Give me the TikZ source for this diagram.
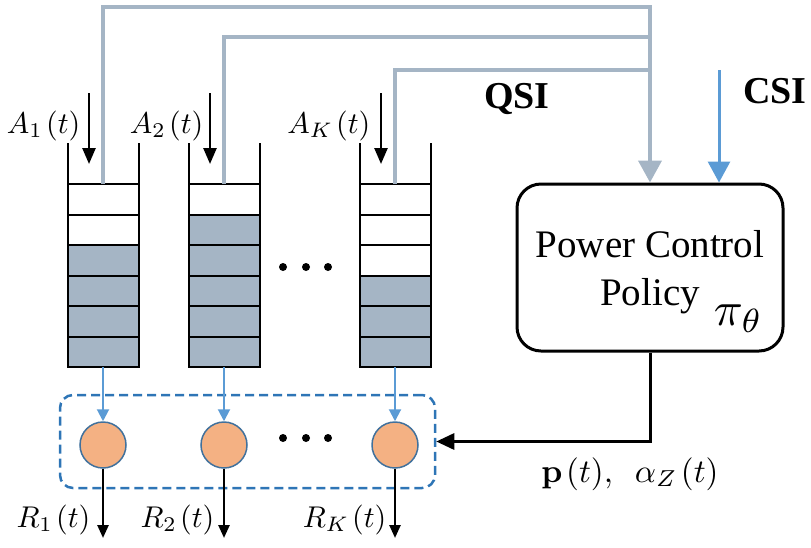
\documentclass[tikz,border=0pt]{standalone}
\usepackage[no-math]{fontspec}
\setmainfont{Liberation Serif}
\usetikzlibrary{arrows.meta}
\definecolor{qgray}{HTML}{A5B5C5}
\definecolor{cblue}{HTML}{5B9BD5}
\definecolor{dblue}{HTML}{2E75B6}
\definecolor{corange}{HTML}{F4B183}
\definecolor{cedge}{HTML}{41719C}
\tikzset{
  qline/.style={line width=2pt,black},
  qsi/.style={line width=4pt,qgray},
  bigtip/.style={-{Triangle[width=23pt,length=22pt]}},
  csiarr/.style={line width=3pt,cblue,-{Triangle[width=22pt,length=21pt]}},
  inarr/.style={line width=2.5pt,black,-{Triangle[width=13pt,length=16pt]}},
  outarr/.style={line width=2.5pt,black,-{Triangle[width=11pt,length=13pt]}},
  bluearr/.style={line width=2pt,cblue,-{Triangle[width=12pt,length=12pt]}},
  ctrl/.style={line width=3pt,black,-{Triangle[width=16pt,length=18pt]}},
  srv/.style={circle,draw=cedge,fill=corange,line width=1.5pt,minimum size=46pt,inner sep=0pt},
  policy/.style={draw,line width=3pt,rounded corners=24pt,minimum width=266pt,minimum height=167pt},
  sched/.style={draw=dblue,dashed,dash pattern=on 9pt off 5pt,line width=2.5pt,rounded corners=13pt,minimum width=375pt,minimum height=93pt},
  dot/.style={circle,fill=black,minimum size=8pt,inner sep=0pt},
  mathlbl/.style={font=\normalsize,scale=3,inner sep=0pt},
  txt/.style={font=\fontsize{39}{44}\selectfont,inner sep=0pt},
  btxt/.style={font=\fontsize{38}{44}\selectfont\bfseries,inner sep=0pt},
}
\begin{document}
\begin{tikzpicture}[x=1pt,y=-1pt]
\useasboundingbox (0,0) rectangle (811,547);
% dashed scheduler box
\node[sched] (sch) at (247.5,441.5) {};
% queues
\foreach \cx/\nf [count=\i] in {103/4,224/5,395/3}{
  \fill[qgray] ({\cx-35.5},{367-\nf*30.5}) rectangle ({\cx+35.5},367);
  \draw[qline] ({\cx-35.5},143) -- ({\cx-35.5},367) -- ({\cx+35.5},367) -- ({\cx+35.5},143);
  \foreach \k in {0,...,5}
    \draw[qline] ({\cx-35.5},{184+\k*30.5}) -- ({\cx+35.5},{184+\k*30.5});
  \coordinate (qt\i) at (\cx,184);
  \coordinate (qb\i) at (\cx,367);
  \coordinate (ai\i) at ({\cx-14},93);
  \coordinate (ae\i) at ({\cx-14},164);
}
% policy box
\node[policy] (pol) at (650,267.5) {};
\node[txt,anchor=base] (pc) at (650,257) {Power Control};
\node[txt,anchor=base] (pl) at (650,305) {Policy};
\node[anchor=base west,inner sep=0pt,font=\normalsize,scale=4.8] (pi) at (713,325) {$\pi_\theta$};
% QSI lines
\coordinate (j1) at (650,7);
\coordinate (j2) at (650,37);
\coordinate (j3) at (650,70);
\draw[qsi] (qt2) |- (j2);
\draw[qsi] (qt3) |- (j3);
\draw[qsi,bigtip] (qt1) |- (j1) -- (pol.north);
% CSI
\coordinate (csi) at (719,70);
\draw[csiarr] (csi) -- (csi |- pol.north);
\node[btxt,anchor=base] (qsil) at (517,108) {QSI};
\node[btxt,anchor=base] (csil) at (775,103) {CSI};
% arrivals
\draw[inarr] (ai1) -- (ae1);
\draw[inarr] (ai2) -- (ae2);
\draw[inarr] (ai3) -- (ae3);
\node[mathlbl,anchor=base east] (a1) at (81,133) {$A_1\mkern2mu(t)$};
\node[mathlbl,anchor=base east] (a2) at (204,133) {$A_2\mkern2mu(t)$};
\node[mathlbl,anchor=base east] (a3) at (371,133) {$A_K\mkern2mu(t)$};
% dots
\node[dot] (d1) at (283,267) {};
\node[dot] (d2) at (306,267) {};
\node[dot] (d3) at (328,267) {};
\node[dot] (e1) at (283,438) {};
\node[dot] (e2) at (306,438) {};
\node[dot] (e3) at (328,438) {};
% servers
\node[srv] (s1) at (103,445) {};
\node[srv] (s2) at (224,445) {};
\node[srv] (s3) at (395,445) {};
\draw[bluearr] (qb1) -- (s1.north);
\draw[bluearr] (qb2) -- (s2.north);
\draw[bluearr] (qb3) -- (s3.north);
\coordinate (r1) at (103,538);
\coordinate (r2) at (224,538);
\coordinate (r3) at (395,538);
\draw[outarr] (s1.south) -- (r1);
\draw[outarr] (s2.south) -- (r2);
\draw[outarr] (s3.south) -- (r3);
\node[mathlbl,anchor=base east] (R1) at (91,527) {$R_1\mkern2mu(t)$};
\node[mathlbl,anchor=base east] (R2) at (215,527) {$R_2\mkern2mu(t)$};
\node[mathlbl,anchor=base east] (R3) at (387,527) {$R_K\mkern2mu(t)$};
% control output
\draw[ctrl] (pol.south) |- (sch.east);
\node[mathlbl,anchor=base,scale=1.1] (pa) at (630,482) {$\mathbf{p}\mkern2mu(t),\ \ \alpha_Z\mkern2mu(t)$};
\end{tikzpicture}
\end{document}
